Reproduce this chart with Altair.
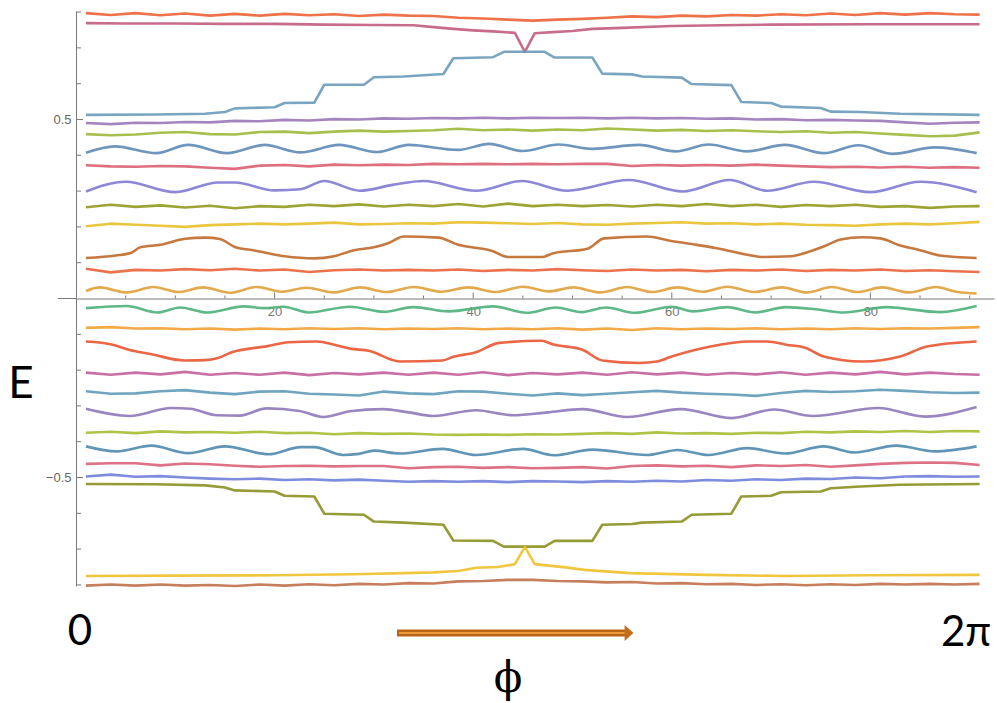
import altair as alt
import pandas as pd

# common sampling grid (x = 1 ... 91, step 2.5)
GRID = [1 + 2.5 * i for i in range(37)]

L01_Y = [.797, .792, .797, .791, .796, .790, .795, .790, .795, .791, .794, .789, .793, .790, .789, .784, .782, .779, .776, .779,
         .781, .784, .788, .786, .790, .788, .792, .790, .794, .791, .796, .792, .797, .793, .797, .794, .793]
L02_X = [1, 5, 10, 15, 20, 25, 30, 34, 36, 38, 40, 42, 44.2, 45.2, 46.2, 48, 50, 52, 55, 60, 65, 70, 80, 91]
L02_Y = [.769, .768, .768, .767, .767, .765, .764, .763, .758, .753, .749, .746, .742, .689, .741, .744, .747, .753, .756, .761,
         .763, .765, .766, .766]
L03_X = [1, 8, 13, 15, 16, 20, 21, 24, 25, 29, 30, 33, 37, 38, 42, 43.1, 47.2, 48.2, 52, 53, 56, 57, 61, 62, 66, 67, 70, 71, 75,
         76, 79, 83, 91]
L03_Y = [.513, .514, .516, .521, .531, .534, .546, .547, .597, .597, .618, .620, .627, .671, .674, .689, .689, .673, .673, .628,
         .626, .620, .617, .599, .596, .549, .546, .536, .532, .522, .521, .516, .513]
L04_Y = [.490, .487, .491, .490, .493, .492, .496, .495, .499, .497, .501, .500, .503, .502, .504, .503, .505, .503, .505, .504,
         .505, .503, .505, .503, .504, .502, .503, .500, .501, .498, .499, .497, .496, .492, .488, .491, .492]
L05_Y = [.459, .456, .458, .463, .465, .459, .458, .465, .466, .462, .466, .469, .466, .468, .470, .474, .470, .472, .469, .472,
         .470, .475, .472, .469, .471, .468, .470, .467, .465, .467, .463, .465, .461, .457, .453, .455, .464]
L06_X = [1, 3.9, 8.1, 11.3, 15.2, 19, 22.6, 26.5, 30.3, 33.5, 38.5, 41.6, 45, 48.6, 52, 56.7, 60.4, 63.7, 67.6, 71.4, 75.3,
         78.8, 82.2, 86.5, 90.7]
L06_Y = [.407, .425, .406, .429, .406, .429, .408, .429, .409, .429, .415, .432, .412, .430, .418, .429, .411, .430, .411, .429,
         .406, .428, .404, .422, .406]
L07_Y = [.372, .369, .368, .370, .369, .365, .362, .371, .373, .369, .374, .372, .374, .373, .376, .375, .376, .375, .376, .375,
         .376, .376, .370, .373, .371, .373, .371, .374, .371, .369, .367, .368, .366, .368, .365, .367, .365]
L08_X = [1, 5, 10, 14.3, 16, 20, 22.6, 25, 28.6, 32, 35, 40.3, 44.9, 49.5, 55.7, 61.1, 65.8, 69.6, 74.3, 80, 85, 90.7]
L08_Y = [.299, .326, .297, .324, .324, .302, .305, .328, .301, .318, .328, .301, .328, .301, .331, .299, .331, .301, .326, .297,
         .326, .297]
L09_Y = [.255, .262, .256, .260, .254, .259, .252, .258, .256, .262, .258, .263, .257, .262, .258, .264, .257, .265, .258, .262,
         .258, .261, .257, .262, .258, .264, .258, .262, .256, .261, .258, .262, .256, .258, .253, .257, .258]
L10_Y = [.202, .209, .206, .203, .200, .205, .207, .209, .207, .209, .212, .207, .208, .210, .209, .213, .212, .210, .208, .211,
         .207, .206, .209, .211, .213, .209, .210, .207, .209, .206, .205, .203, .207, .209, .207, .210, .214]
L11_X = [1, 4, 5.5, 6.5, 8.5, 11, 13, 14.5, 16, 18, 21, 24, 26, 28, 30, 31.5, 33, 36.5, 38.5, 42, 43.5, 47, 48, 51.5, 53.2,
         57.5, 59.7, 62, 64.8, 67.6, 69, 72, 73.5, 75.3, 77, 79.2, 81, 83, 85, 87, 90.7]
L11_Y = [.113, .120, .127, .143, .150, .167, .170, .166, .144, .134, .118, .112, .118, .135, .143, .155, .173, .170, .150, .132,
         .116, .116, .126, .139, .168, .173, .162, .152, .139, .122, .116, .118, .128, .145, .165, .171, .168, .148, .135, .120,
         .113]
L12_Y = [.083, .073, .080, .078, .082, .079, .083, .078, .081, .074, .079, .081, .078, .080, .078, .081, .077, .080, .078, .082,
         .079, .077, .081, .078, .080, .076, .080, .078, .081, .077, .080, .078, .081, .077, .079, .076, .074]
L13_X = [1, 2.4, 5.1, 7.8, 10.3, 12.8, 15.5, 18.2, 20.7, 23.2, 25.9, 28.6, 31.3, 34, 36.8, 39.5, 42.3, 45, 47.6, 50.1, 52.8,
         55.5, 58, 60.6, 63.1, 65.6, 68.3, 71.1, 73.6, 76.1, 78.7, 81.2, 83.9, 86.6, 88.8, 90.7]
L13_Y = [.021, .031, .017, .032, .018, .031, .016, .032, .019, .030, .017, .031, .018, .032, .019, .031, .018, .033, .020, .031,
         .017, .032, .018, .031, .019, .033, .018, .031, .017, .032, .018, .031, .017, .032, .018, .014]
L14_X = [1, 5.1, 8.2, 10.5, 13.2, 16.9, 19, 20.9, 23.4, 27.6, 31, 34, 37.5, 42, 45.4, 48.3, 50.9, 53.4, 56.3, 60, 62.1, 65.6,
         68.4, 71.5, 74.5, 77.3, 81.6, 87, 90.7]
L14_Y = [-.027, -.021, -.039, -.025, -.039, -.022, -.027, -.023, -.039, -.023, -.037, -.024, -.036, -.022, -.040, -.025, -.038,
         -.025, -.040, -.023, -.036, -.024, -.039, -.024, -.030, -.039, -.024, -.038, -.021]
L15_Y = [-.082, -.080, -.084, -.083, -.086, -.084, -.087, -.084, -.086, -.083, -.085, -.083, -.086, -.084, -.085, -.083, -.086,
         -.084, -.086, -.083, -.087, -.084, -.088, -.083, -.086, -.084, -.085, -.083, -.086, -.084, -.086, -.083, -.085, -.083,
         -.084, -.082, -.080]
L16_X = [1, 3.7, 5.4, 7.5, 10.9, 13, 14.3, 15.7, 19.3, 21.4, 24.3, 26, 27.6, 29.5, 32.6, 36.9, 38, 40.3, 42.6, 46.9, 48, 51,
         53, 56.7, 58.5, 60, 63.9, 67.8, 69.6, 71.5, 73.5, 75.3, 79.2, 83, 85.7, 90.7]
L16_Y = [-.120, -.129, -.144, -.155, -.173, -.172, -.166, -.150, -.133, -.122, -.120, -.129, -.140, -.146, -.176, -.173, -.163,
         -.150, -.124, -.118, -.128, -.143, -.173, -.180, -.176, -.162, -.134, -.120, -.120, -.129, -.138, -.162, -.176, -.162,
         -.134, -.120]
L17_Y = [-.207, -.213, -.207, -.212, -.205, -.213, -.208, -.213, -.207, -.214, -.208, -.212, -.207, -.213, -.207, -.213, -.206,
         -.214, -.208, -.212, -.207, -.213, -.206, -.212, -.207, -.213, -.208, -.212, -.206, -.213, -.207, -.212, -.205, -.212,
         -.207, -.211, -.213]
L18_Y = [-.259, -.266, -.265, -.259, -.256, -.263, -.267, -.260, -.259, -.266, -.268, -.271, -.260, -.265, -.267, -.259, -.260,
         -.266, -.271, -.265, -.270, -.266, -.262, -.258, -.263, -.266, -.268, -.272, -.264, -.258, -.261, -.259, -.255, -.258,
         -.262, -.264, -.263]
L19_X = [1, 5.4, 9.6, 11.5, 14.2, 16.5, 19.2, 22.5, 24.9, 27.6, 30.9, 33.5, 36, 40.3, 44, 47.5, 51, 55.5, 60.9, 66, 70.3,
         74.2, 80.8, 85.5, 90.7]
L19_Y = [-.308, -.328, -.306, -.308, -.326, -.327, -.307, -.314, -.331, -.315, -.309, -.318, -.328, -.312, -.326, -.318, -.309,
         -.331, -.309, -.334, -.310, -.328, -.306, -.330, -.303]
L20_Y = [-.375, -.372, -.376, -.371, -.374, -.373, -.375, -.372, -.376, -.375, -.379, -.376, -.378, -.377, -.380, -.381, -.380,
         -.381, -.379, -.380, -.378, -.376, -.378, -.374, -.377, -.376, -.378, -.375, -.376, -.372, -.374, -.371, -.373, -.370,
         -.373, -.370, -.371]
L21_X = [1, 4.1, 7.6, 11.3, 15, 19.4, 22.6, 24, 26.9, 28.5, 30, 32.6, 36.9, 40.3, 45, 48.1, 52, 57.5, 60.6, 63.7, 67.6, 71.4,
         75.3, 78.4, 82.6, 86.5, 90.7]
L21_Y = [-.413, -.427, -.411, -.432, -.413, -.435, -.415, -.415, -.437, -.434, -.425, -.433, -.420, -.437, -.420, -.438, -.422,
         -.437, -.423, -.437, -.418, -.433, -.413, -.430, -.411, -.427, -.413]
L22_Y = [-.462, -.460, -.460, -.466, -.461, -.463, -.467, -.470, -.468, -.467, -.469, -.468, -.468, -.474, -.471, -.470, -.473,
         -.471, -.474, -.473, -.471, -.475, -.468, -.466, -.469, -.467, -.471, -.466, -.468, -.465, -.470, -.466, -.462, -.459,
         -.458, -.459, -.465]
L23_Y = [-.497, -.492, -.498, -.496, -.500, -.503, -.505, -.503, -.507, -.505, -.508, -.506, -.509, -.512, -.510, -.512, -.510,
         -.513, -.510, -.511, -.513, -.510, -.512, -.509, -.511, -.507, -.509, -.505, -.507, -.503, -.504, -.500, -.502, -.497,
         -.496, -.498, -.497]
L24_X = [1, 8, 13, 15, 16, 20, 21, 24, 25, 29, 30, 33, 37, 38, 42, 43.1, 47.2, 48.2, 52, 53, 56, 57, 61, 62, 66, 67, 70, 71, 75,
         76, 79, 83, 91]
L24_Y = [-.518, -.519, -.522, -.528, -.536, -.539, -.551, -.553, -.601, -.604, -.623, -.626, -.632, -.676, -.677, -.693, -.693,
         -.677, -.677, -.632, -.630, -.626, -.623, -.604, -.601, -.553, -.551, -.541, -.539, -.530, -.525, -.520, -.518]
L25_X = [1, 10, 20, 28, 33, 36, 38.5, 40.3, 42.5, 44.2, 45.2, 46.2, 49.3, 51.2, 55.8, 63.5, 71.4, 80, 91]
L25_Y = [-.775, -.774, -.773, -.770, -.767, -.765, -.761, -.752, -.750, -.742, -.694, -.742, -.751, -.758, -.767, -.772, -.775,
         -.773, -.772]
L26_Y = [-.802, -.799, -.802, -.799, -.802, -.800, -.803, -.799, -.802, -.798, -.801, -.797, -.799, -.795, -.796, -.790, -.789,
         -.786, -.786, -.789, -.790, -.793, -.792, -.796, -.795, -.798, -.797, -.800, -.798, -.801, -.798, -.800, -.797, -.799,
         -.797, -.799, -.797]

SERIES = [
    ("s01", GRID, L01_Y), ("s02", L02_X, L02_Y), ("s03", L03_X, L03_Y), ("s04", GRID, L04_Y),
    ("s05", GRID, L05_Y), ("s06", L06_X, L06_Y), ("s07", GRID, L07_Y), ("s08", L08_X, L08_Y),
    ("s09", GRID, L09_Y), ("s10", GRID, L10_Y), ("s11", L11_X, L11_Y), ("s12", GRID, L12_Y),
    ("s13", L13_X, L13_Y), ("s14", L14_X, L14_Y), ("s15", GRID, L15_Y), ("s16", L16_X, L16_Y),
    ("s17", GRID, L17_Y), ("s18", GRID, L18_Y), ("s19", L19_X, L19_Y), ("s20", GRID, L20_Y),
    ("s21", L21_X, L21_Y), ("s22", GRID, L22_Y), ("s23", GRID, L23_Y), ("s24", L24_X, L24_Y),
    ("s25", L25_X, L25_Y), ("s26", GRID, L26_Y),
]
COLORS = ["#EB6235", "#C25C80", "#6A9BBA", "#9A78B8", "#9DB83A", "#5E8BB5", "#D95F70", "#7F7BD0",
          "#929A1E", "#E8C02A", "#C0692A", "#E8643A", "#E0A03A", "#4DB07A", "#F2A033", "#E85530",
          "#C2609C", "#5F9AB8", "#8E78B8", "#A9BC33", "#5089AE", "#D9637A", "#6F80D8", "#8A9020",
          "#EFC02A", "#C0704A"]
# series drawn with a smooth (monotone) curve
SMOOTH = {"s06", "s08", "s11", "s13", "s14", "s16", "s19", "s21"}

X_MAJOR = [20, 40, 60, 80]
X_MINOR = [5, 10, 15, 25, 30, 35, 45, 50, 55, 65, 70, 75, 85, 90]
Y_MAJOR = [-0.5, 0.5]
Y_MINOR = [-0.8, -0.7, -0.6, -0.4, -0.3, -0.2, -0.1, 0.1, 0.2, 0.3, 0.4, 0.6, 0.7, 0.8]

rows = []
for name, xs, ys in SERIES:
    for x, y in zip(xs, ys, strict=True):
        rows.append({"series": name, "phi": x, "E": y, "smooth": name in SMOOTH})
df = pd.DataFrame(rows)
names = [s[0] for s in SERIES]

W, H = 918, 575
AX = "#7a7a7a"
xscale = alt.Scale(domain=[0, 92.45], nice=False, zero=False)
yscale = alt.Scale(domain=[-0.803, 0.803], nice=False, zero=False)
cscale = alt.Scale(domain=names, range=COLORS)

x_enc = alt.X("phi:Q", scale=xscale,
              axis=alt.Axis(orient="bottom", offset=-H / 2, values=X_MAJOR, ticks=False, grid=False,
                            domainColor=AX, labelColor="#777", labelFontSize=13, labelFont="Liberation Sans",
                            labelPadding=7, title=None, format="d"))
y_enc = alt.Y("E:Q", scale=yscale,
              axis=alt.Axis(values=Y_MAJOR, ticks=False, grid=False, domainColor=AX, labelColor="#666",
                            labelFontSize=13, labelFont="Liberation Sans", labelPadding=5, title=None,
                            format=".1f"))
c_enc = alt.Color("series:N", scale=cscale, legend=None)

base = alt.Chart(df)
lines_lin = base.transform_filter("!datum.smooth").mark_line(
    strokeWidth=2.6, opacity=0.9, strokeJoin="round").encode(x=x_enc, y=y_enc, color=c_enc, detail="series:N")
lines_smooth = base.transform_filter("datum.smooth").mark_line(
    strokeWidth=2.6, opacity=0.9, strokeJoin="round", interpolate="monotone").encode(
    x=alt.X("phi:Q", scale=xscale), y=alt.Y("E:Q", scale=yscale), color=c_enc, detail="series:N")

xt_minor = alt.Chart(pd.DataFrame({"t": X_MINOR})).mark_rule(color=AX, strokeWidth=1).encode(
    x=alt.X("t:Q", scale=xscale), y=alt.value(H / 2), y2=alt.value(H / 2 - 3))
xt_major = alt.Chart(pd.DataFrame({"t": X_MAJOR})).mark_rule(color=AX, strokeWidth=1).encode(
    x=alt.X("t:Q", scale=xscale), y=alt.value(H / 2), y2=alt.value(H / 2 - 6))
yt_minor = alt.Chart(pd.DataFrame({"t": Y_MINOR})).mark_rule(color=AX, strokeWidth=1).encode(
    y=alt.Y("t:Q", scale=yscale), x=alt.value(0), x2=alt.value(5))
yt_major = alt.Chart(pd.DataFrame({"t": Y_MAJOR})).mark_rule(color=AX, strokeWidth=1).encode(
    y=alt.Y("t:Q", scale=yscale), x=alt.value(0), x2=alt.value(7))
x_ext = alt.Chart(pd.DataFrame({"k": [0]})).mark_rule(color=AX, strokeWidth=1).encode(
    x=alt.value(-18), x2=alt.value(0), y=alt.value(H / 2))


def label(txt, x, y, size, font):
    return alt.Chart(pd.DataFrame({"t": [txt]})).mark_text(
        fontSize=size, font=font, color="black", align="center", baseline="middle"
    ).encode(text="t:N", x=alt.value(x), y=alt.value(y))


e_lab = label("E", -55, 374, 44, "Lato")
zero_lab = label("0", 4, 621, 42, "Lato")
twopi_lab = label("2π", 890, 622, 42, "Lato")
phi_lab = label("ϕ", 432, 668, 42, "DejaVu Serif")

arrow_df = pd.DataFrame({"k": [0]})
arrow_body = alt.Chart(arrow_df).mark_rule(color="#BA6418", strokeWidth=7).encode(
    x=alt.value(321), x2=alt.value(551), y=alt.value(622))
arrow_hi = alt.Chart(arrow_df).mark_rule(color="#EE9A38", strokeWidth=2).encode(
    x=alt.value(323), x2=alt.value(549), y=alt.value(622))
arrow_head = alt.Chart(arrow_df).mark_point(
    shape="M -0.55 -1 L 0.55 0 L -0.55 1 Z", filled=True, color="#C26C1C", opacity=1, size=256
).encode(x=alt.value(553), y=alt.value(622))

chart = alt.layer(
    x_ext, xt_minor, xt_major, yt_minor, yt_major, lines_lin, lines_smooth,
    e_lab, zero_lab, twopi_lab, phi_lab, arrow_body, arrow_hi, arrow_head
).properties(
    width=W, height=H,
    autosize=alt.AutoSizeParams(type="none"),
    padding={"left": 76, "top": 11, "right": 3, "bottom": 117},
).configure_view(stroke=None)

chart.save("out.html", embed_options={"renderer": "svg", "actions": False})
